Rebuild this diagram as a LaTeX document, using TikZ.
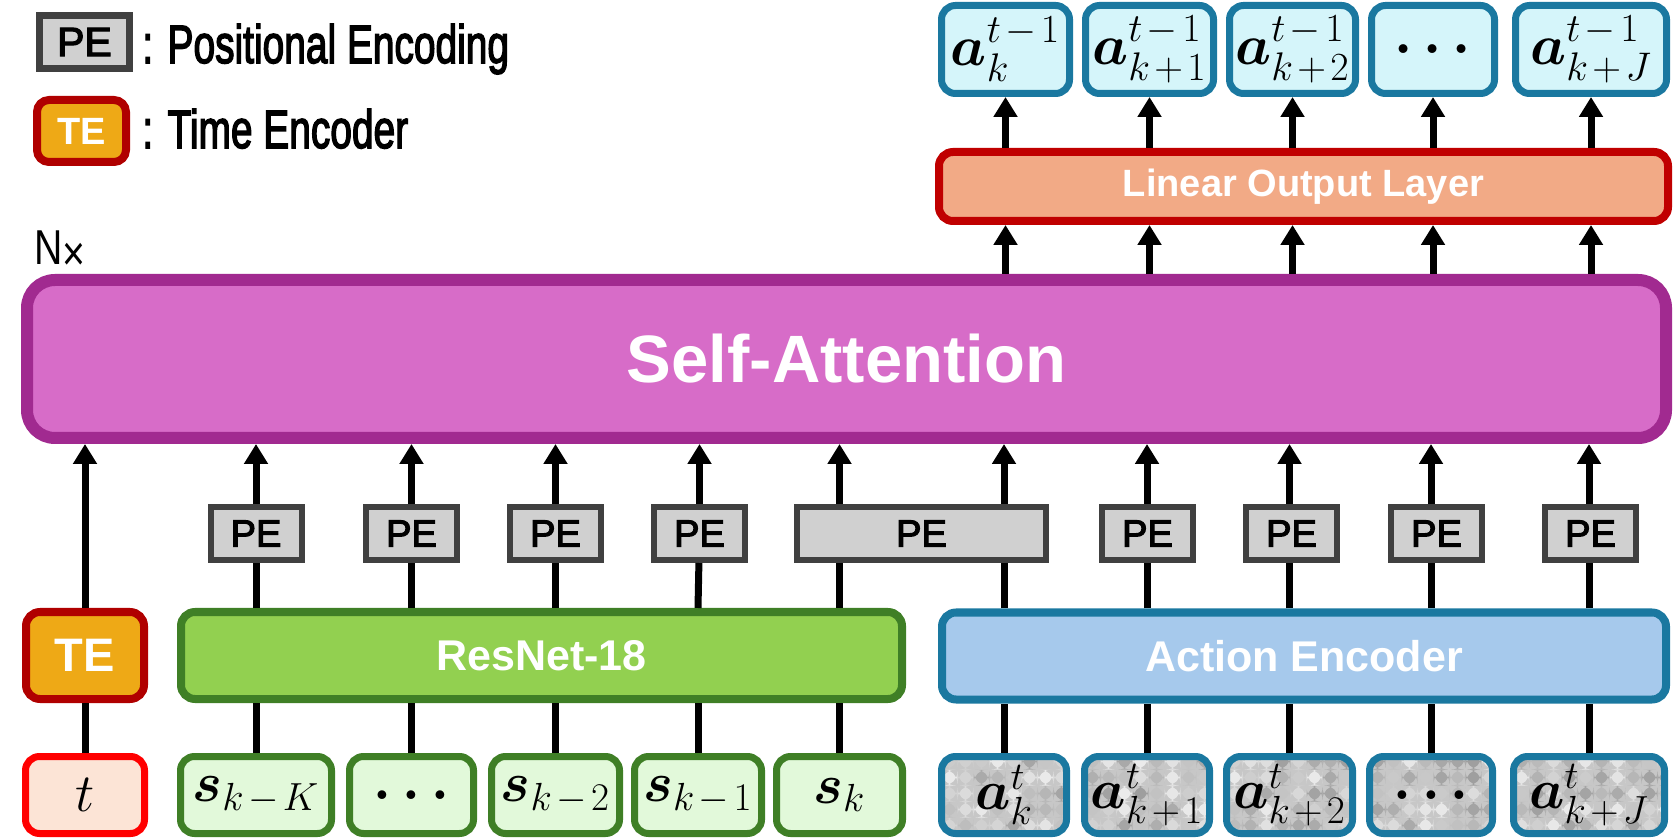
\RequirePackage{fix-cm}
\documentclass[tikz,border=0pt]{standalone}
\usepackage{amsmath}
\usepackage{bm}
\usepackage[no-math]{fontspec}
\setmainfont{Liberation Sans}
\newfontfamily\medfont[FakeBold=3]{Liberation Sans}
\usetikzlibrary{arrows.meta}

\definecolor{saFill}{HTML}{D76CC8}
\definecolor{saDraw}{HTML}{A12A90}
\definecolor{linFill}{HTML}{F2AA86}
\definecolor{linDraw}{HTML}{C00000}
\definecolor{outFill}{HTML}{D5F5FA}
\definecolor{blueDraw}{HTML}{1A78A0}
\definecolor{aeFill}{HTML}{A6C9EC}
\definecolor{teFill}{HTML}{EEA916}
\definecolor{teDraw}{HTML}{B00000}
\definecolor{resFill}{HTML}{92D050}
\definecolor{greenDraw}{HTML}{3F7F26}
\definecolor{sFill}{HTML}{E2F9DA}
\definecolor{tFill}{HTML}{FCE4D6}
\definecolor{tDraw}{HTML}{FF0000}
\definecolor{peFill}{HTML}{D0D0D0}
\definecolor{peDraw}{HTML}{404040}

\newcommand{\fsz}[1]{\fontsize{#1}{#1}\selectfont}
\newcommand{\so}[1]{\mskip2mu#1\mskip2mu}

\begin{document}
\begin{tikzpicture}[x=0.5pt,y=-0.5pt,
  box/.style={draw, inner sep=0pt, rounded corners=7pt, align=center},
  sabox/.style={box, fill=saFill, draw=saDraw, line width=6pt, rounded corners=14pt,
    minimum width=819.5pt, minimum height=79pt, text=white, font=\fsz{33.5}\bfseries},
  linbox/.style={box, fill=linFill, draw=linDraw, line width=4pt,
    minimum width=364.5pt, minimum height=34.5pt, text=white, font=\fsz{19}\bfseries},
  outbox/.style={box, fill=outFill, draw=blueDraw, line width=3.5pt,
    minimum height=44pt, font=\fsz{28.5}},
  pebox/.style={draw=peDraw, fill=peFill, line width=3pt, inner sep=0pt,
    minimum height=26.5pt, minimum width=45.5pt, text=black, font=\fsz{19}\medfont},
  midbox/.style={box, line width=4pt, minimum height=43.5pt, text=white, font=\fsz{21.5}\bfseries},
  inbox/.style={box, line width=3.5pt, minimum height=38.5pt, font=\fsz{28}},
  snode/.style={inbox, fill=sFill, draw=greenDraw},
  anode/.style={inbox, fill=black!22, draw=blueDraw,
    path picture={
      \foreach \i in {0,...,9}{\foreach \j in {0,...,5}{
        \pgfmathsetmacro\g{8+30*rnd}
        \fill[black!\g] ([xshift=\i*8pt, yshift=\j*8pt]path picture bounding box.south west) rectangle ++(8pt,8pt);
      }}
    }},
  legtxt/.style={inner sep=0pt, anchor=base west, font=\fsz{27}\medfont},
  conn/.style={line width=3.5pt, black},
  arr/.style={conn, -{Triangle[width=11.5pt,length=10pt]}}
]
\pgfmathsetseed{4242}
\useasboundingbox (0,0) rectangle (1674,838);

% ---------- legend ----------
\node[pebox, minimum width=45pt, line width=3.5pt, font=\fsz{20.5}\medfont] (lpe) at (84.5,42) {PE};
\node[legtxt] (lpetxt) at (142,63) {\scalebox{0.72}[1]{: Positional Encoding}};
\node[box, fill=teFill, draw=teDraw, line width=4pt, minimum width=44.5pt, minimum height=31pt,
  rounded corners=6pt, text=white, font=\fsz{19}\bfseries] (lte) at (81.5,131) {TE};
\node[legtxt] (ltetxt) at (142,148) {\scalebox{0.72}[1]{: Time Encoder}};
\node[legtxt, font=\fsz{24.5}] (nx) at (34,265) {\scalebox{0.8}[1]{N\raisebox{-0.12em}{×}}};

% ---------- main blocks ----------
\node[sabox] (sa) at (846.5,359) {Self-Attention};
\node[linbox] (lin) at (1303.5,186.5) {Linear Output Layer};

% output boxes
\node[outbox, minimum width=64pt]   (o1) at (1005.5,49.5) {$\bm{a}^{t\so{-}1}_{k}$};
\node[outbox, minimum width=64pt]   (o2) at (1149.5,49.5) {$\bm{a}^{t\so{-}1}_{k\so{+}1}$};
\node[outbox, minimum width=63pt]   (o3) at (1292.5,49.5) {$\bm{a}^{t\so{-}1}_{k\so{+}2}$};
\node[outbox, minimum width=61.5pt] (o4) at (1433,49.5)   {$\bm{\ldots}$};
\node[outbox, minimum width=75.5pt] (o5) at (1591,49.5)   {$\bm{a}^{t\so{-}1}_{k\so{+}J}$};

% PE boxes
\node[pebox] (p1) at (256,533.5) {PE};
\node[pebox] (p2) at (411.5,533.5) {PE};
\node[pebox] (p3) at (555.5,533.5) {PE};
\node[pebox] (p4) at (699.5,533.5) {PE};
\node[pebox, minimum width=124.5pt] (p5) at (921.5,533.5) {PE};
\node[pebox] (p6) at (1147.5,533.5) {PE};
\node[pebox] (p7) at (1291.5,533.5) {PE};
\node[pebox] (p8) at (1436.5,533.5) {PE};
\node[pebox] (p9) at (1590.5,533.5) {PE};

% middle row
\node[midbox, fill=teFill, draw=teDraw, minimum width=59pt, font=\fsz{23.5}\bfseries] (te) at (85,655.5) {TE};
\node[midbox, fill=resFill, draw=greenDraw, minimum width=360.5pt] (res) at (541.5,655.5) {ResNet-18};
\node[midbox, fill=aeFill, draw=blueDraw, minimum width=362pt] (ae) at (1304,656) {Action Encoder};

% bottom row
\node[inbox, fill=tFill, draw=tDraw, minimum width=59.5pt, font=\fsz{27}] (t) at (85,795) {$t$};
\node[snode, minimum width=75.5pt] (s1) at (256,795)   {$\bm{s}_{k\so{-}K}$};
\node[snode, minimum width=62pt]   (s2) at (411.5,795) {$\bm{\ldots}$};
\node[snode, minimum width=64pt]   (s3) at (555.5,795) {$\bm{s}_{k\so{-}2}$};
\node[snode, minimum width=63.5pt] (s4) at (698,795)   {$\bm{s}_{k\so{-}1}$};
\node[snode, minimum width=63pt]   (s5) at (839.5,795) {$\bm{s}_{k}$};

\node[anode, minimum width=62.5pt] (a1) at (1004,795)   {$\bm{a}^{t}_{k}$};
\node[anode, minimum width=62.5pt] (a2) at (1147,795)   {$\bm{a}^{t}_{k\so{+}1}$};
\node[anode, minimum width=63pt]   (a3) at (1289.5,795) {$\bm{a}^{t}_{k\so{+}2}$};
\node[anode, minimum width=61.5pt] (a4) at (1431,795)   {$\bm{\ldots}$};
\node[anode, minimum width=75.5pt] (a5) at (1589,795)   {$\bm{a}^{t}_{k\so{+}J}$};

% ---------- connectors ----------
% time column
\draw[conn] (t) -- (te);
\draw[arr] (te) -- (te |- sa.south);

% state columns
\foreach \s/\p in {s1/p1,s2/p2,s3/p3,s4/p4}{
  \draw[conn] (\s) -- (\s |- res.south);
  \draw[conn] (\s |- res.north) -- (\p);
  \draw[arr] (\p) -- (\p |- sa.south);
}
\draw[conn] (s5) -- (s5 |- res.south);
\draw[conn] (s5 |- res.north) -- (s5 |- p5.south);
\draw[arr] (s5 |- p5.north) -- (s5 |- sa.south);

% action columns
\draw[conn] (a1) -- (a1 |- ae.south);
\draw[conn] (a1 |- ae.north) -- (a1 |- p5.south);
\draw[arr] (a1 |- p5.north) -- (a1 |- sa.south);
\foreach \a/\p in {a2/p6,a3/p7,a4/p8,a5/p9}{
  \draw[conn] (\a) -- (\a |- ae.south);
  \draw[conn] (\a |- ae.north) -- (\a |- \p.south);
  \draw[arr] (\a |- \p.north) -- (\a |- sa.south);
}

% output columns
\foreach \o in {o1,o2,o3,o4,o5}{
  \draw[arr] (\o |- sa.north) -- (\o |- lin.south);
  \draw[arr] (\o |- lin.north) -- (\o);
}
\end{tikzpicture}
\end{document}
